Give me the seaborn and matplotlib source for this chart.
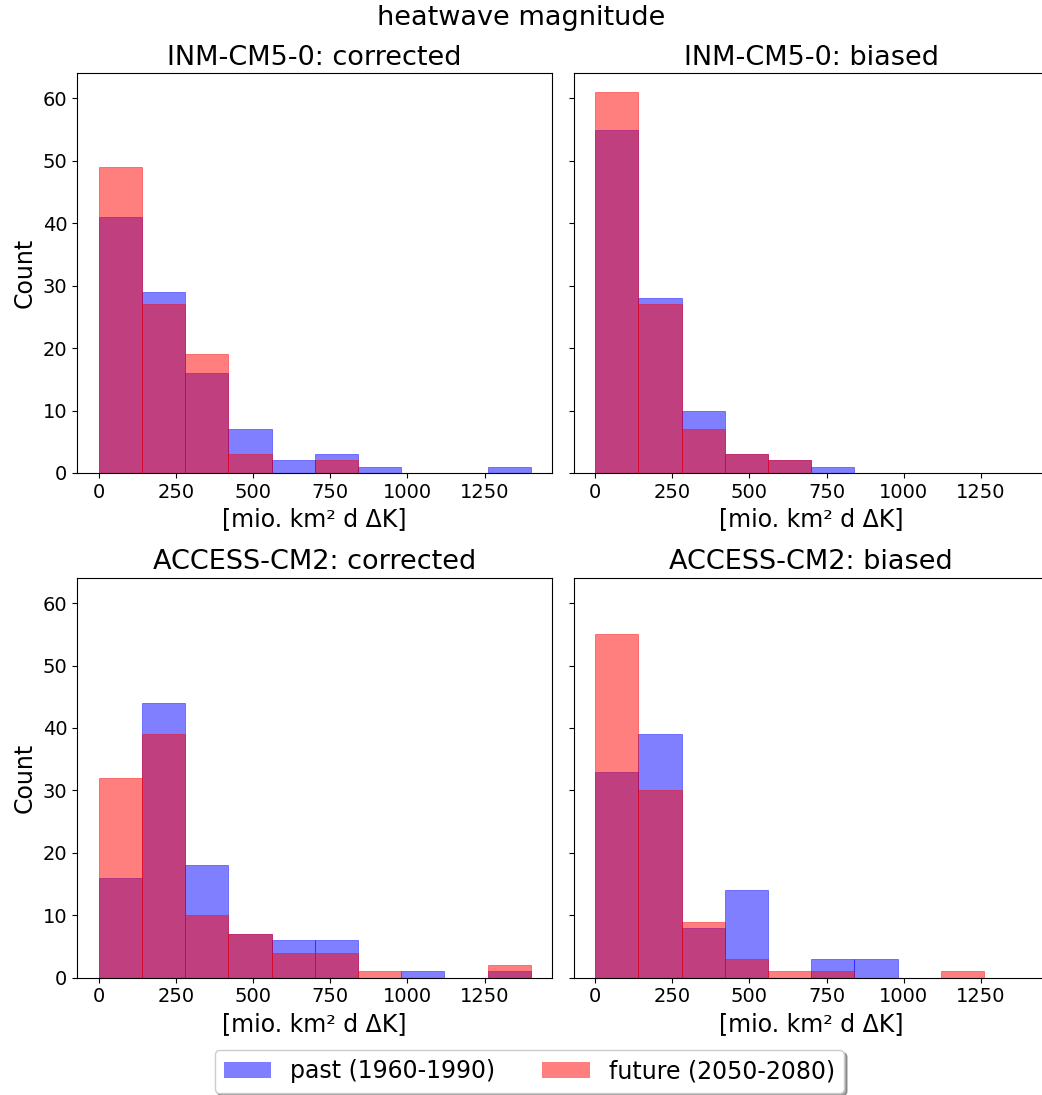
import numpy as np
import pandas as pd
import matplotlib
matplotlib.use("Agg")
import matplotlib.pyplot as plt
from matplotlib.patches import Patch
from matplotlib.colors import to_rgba
import seaborn as sns

# Histogram bins of heatwave magnitude [mio. km² d ΔK]
bin_edges = [0, 140, 280, 420, 560, 700, 840, 980, 1120, 1260, 1400]

panel_titles = ["INM-CM5-0: corrected", "INM-CM5-0: biased",
                "ACCESS-CM2: corrected", "ACCESS-CM2: biased"]

# Event counts per bin
past_inm_corrected = [41, 29, 16, 7, 2, 3, 1, 0, 0, 1]
future_inm_corrected = [49, 27, 19, 3, 0, 2, 0, 0, 0, 0]
past_inm_biased = [55, 28, 10, 3, 2, 1, 0, 0, 0, 0]
future_inm_biased = [61, 27, 7, 3, 2, 0, 0, 0, 0, 0]
past_access_corrected = [16, 44, 18, 7, 6, 6, 0, 1, 0, 1]
future_access_corrected = [32, 39, 10, 7, 4, 4, 1, 0, 0, 2]
past_access_biased = [33, 39, 8, 14, 0, 3, 3, 0, 0, 0]
future_access_biased = [55, 30, 9, 3, 1, 1, 0, 0, 1, 0]

past_counts = [past_inm_corrected, past_inm_biased,
               past_access_corrected, past_access_biased]
future_counts = [future_inm_corrected, future_inm_biased,
                 future_access_corrected, future_access_biased]

past_label = "past (1960-1990)"
future_label = "future (2050-2080)"
past_color = "blue"
future_color = "red"

edges = np.asarray(bin_edges, dtype=float)
bin_centers = 0.5 * (edges[:-1] + edges[1:])

fig, axes = plt.subplots(2, 2, figsize=(10.42, 10.95), dpi=100, sharey=True)
fig.subplots_adjust(left=0.0739, right=1.0067, top=0.9333, bottom=0.1071,
                    wspace=0.0442, hspace=0.262)

for ax, title, past, future in zip(axes.flat, panel_titles, past_counts, future_counts):
    for counts, color in ((past, past_color), (future, future_color)):
        df = pd.DataFrame({"magnitude": bin_centers, "count": counts})
        sns.histplot(data=df, x="magnitude", weights="count", bins=list(bin_edges),
                     color=color, alpha=0.5, edgecolor=to_rgba(color, 0.5),
                     linewidth=0.6, ax=ax)
    ax.set_title(title, fontsize=19.5)
    ax.set_xlabel("[mio. km² d ΔK]", fontsize=17)
    ax.set_xlim(-70, 1470)
    ax.set_xticks([0, 250, 500, 750, 1000, 1250])
    ax.tick_params(labelsize=14)

for ax in axes[:, 0]:
    ax.set_ylabel("Count", fontsize=17)
for ax in axes[:, 1]:
    ax.set_ylabel("")
axes[0, 0].set_ylim(0, 64.05)
axes[0, 0].set_yticks([0, 10, 20, 30, 40, 50, 60])

fig.suptitle("heatwave magnitude", fontsize=19.5, y=0.995)

handles = [Patch(facecolor=to_rgba(past_color, 0.5), label=past_label),
           Patch(facecolor=to_rgba(future_color, 0.5), label=future_label)]
fig.legend(handles=handles, loc="lower center", bbox_to_anchor=(0.508, 0.002),
           borderaxespad=0, ncol=2, fontsize=17, shadow=True)

fig.savefig("out.png", dpi=100)
